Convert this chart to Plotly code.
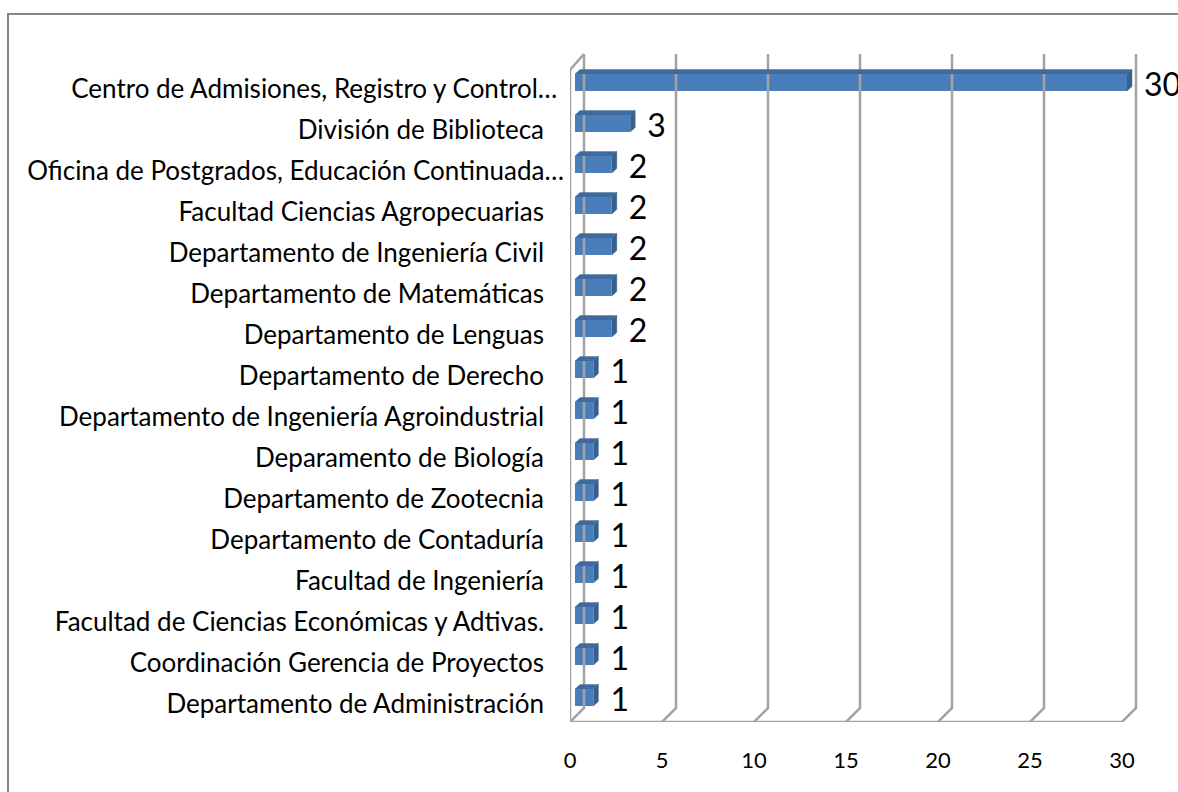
import plotly.graph_objects as go

categories = [
    "Centro de Admisiones, Registro y Control…",
    "División de Biblioteca",
    "Oficina de Postgrados, Educación Continuada…",
    "Facultad Ciencias Agropecuarias",
    "Departamento de Ingeniería Civil",
    "Departamento de Matemáticas",
    "Departamento de Lenguas",
    "Departamento de Derecho",
    "Departamento de Ingeniería Agroindustrial",
    "Deparamento de Biología",
    "Departamento de Zootecnia",
    "Departamento de Contaduría",
    "Facultad de Ingeniería",
    "Facultad de Ciencias Económicas y Adtivas.",
    "Coordinación Gerencia de Proyectos",
    "Departamento de Administración",
]
values = [30, 3, 2, 2, 2, 2, 2, 1, 1, 1, 1, 1, 1, 1, 1, 1]
x_ticks = [0, 5, 10, 15, 20, 25, 30]
# trailing spaces: the source labels do not all end at the same x
label_padding = [1, 3, 0, 3, 3, 3, 3, 3, 3, 3, 3, 3, 3, 3, 3, 3]

WIDTH, HEIGHT = 1178, 792
X0_PX, PX_PER_UNIT = 570, 18.4
Y0_PX, PX_PER_ROW = 89, 41
FLOOR_PX = 722

dx = 1 / PX_PER_UNIT  # one pixel in x units
dy = 1 / PX_PER_ROW  # one pixel in row units

rows = list(range(len(values)))
floor = (FLOOR_PX - Y0_PX) * dy
depth_x, depth_y = 14 * dx, 14 * dy
wall_top = (54 - Y0_PX) * dy
front_top = (70 - Y0_PX) * dy

bar_base = 5 * dx
bar_rows = [r - 6.5 * dy for r in rows]
bar_half = 8.5 * dy
side_x, side_y = 5 * dx, 4.5 * dy

GRID = "#a3a3a3"
fig = go.Figure()

# back wall, floor and left wall
for t in x_ticks:
    fig.add_trace(go.Scatter(
        x=[t, t + depth_x, t + depth_x],
        y=[floor, floor - depth_y, wall_top],
        mode="lines", line=dict(color=GRID, width=2.5), hoverinfo="skip",
    ))
fig.add_trace(go.Scatter(
    x=[x_ticks[-1], 0, 0, depth_x],
    y=[floor, floor, front_top, wall_top],
    mode="lines", line=dict(color=GRID, width=2.5), hoverinfo="skip",
))

# top and side faces of each bar
for r, v in zip(bar_rows, values):
    x_end = bar_base + v
    fig.add_trace(go.Scatter(
        x=[bar_base, bar_base + side_x, x_end + side_x, x_end],
        y=[r - bar_half, r - bar_half - side_y, r - bar_half - side_y, r - bar_half],
        fill="toself", fillcolor="#3f6a9e", mode="lines",
        line=dict(color="rgba(63,106,158,0.4)", width=1), hoverinfo="skip",
    ))
    fig.add_trace(go.Scatter(
        x=[x_end, x_end + side_x, x_end + side_x, x_end],
        y=[r - bar_half, r - bar_half - side_y, r + bar_half - side_y, r + bar_half],
        fill="toself", fillcolor="#38608f", mode="lines",
        line=dict(color="rgba(56,96,143,0.4)", width=1), hoverinfo="skip",
    ))

fig.add_trace(go.Bar(
    y=bar_rows, x=values, base=bar_base, orientation="h", width=2 * bar_half,
    marker=dict(color="#4a7ebb", line=dict(width=0)),
))

fig.add_trace(go.Scatter(
    x=[v + bar_base + side_x + 12 * dx for v in values],
    y=[r + 5 * dy for r in bar_rows],
    mode="text", text=[str(v) for v in values], textposition="middle right",
    textfont=dict(family="Lato", size=32, color="#000000"),
    cliponaxis=False, hoverinfo="skip",
))

fig.update_layout(
    width=WIDTH, height=HEIGHT, showlegend=False,
    paper_bgcolor="#ffffff", plot_bgcolor="#ffffff",
    margin=dict(l=0, r=0, t=0, b=0, autoexpand=False),
    font=dict(family="Lato", color="#000000"),
    xaxis=dict(
        domain=[X0_PX / WIDTH, 1],
        range=[0, (WIDTH - X0_PX) * dx],
        tickvals=x_ticks, showgrid=False, zeroline=False, showline=False,
        ticks="", ticklabelstandoff=23, tickfont=dict(size=22),
    ),
    yaxis=dict(
        domain=[(HEIGHT - FLOOR_PX) / HEIGHT, 1],
        range=[floor, -Y0_PX * dy],
        tickvals=rows,
        ticktext=[c + "\u00a0" * p for c, p in zip(categories, label_padding)],
        showgrid=False, zeroline=False, showline=False,
        ticks="", ticklabelstandoff=5, tickfont=dict(size=26),
    ),
    # chart area border, runs off the right and bottom of the picture
    shapes=[dict(
        type="rect", xref="paper", yref="paper",
        x0=8 / WIDTH, x1=1.01, y0=-0.01, y1=(HEIGHT - 14) / HEIGHT,
        line=dict(color="#868686", width=2), layer="below",
    )],
)

fig.write_html(
    "out.html",
    config=dict(displayModeBar=False),
    post_script="document.body.style.margin='0';",
)
